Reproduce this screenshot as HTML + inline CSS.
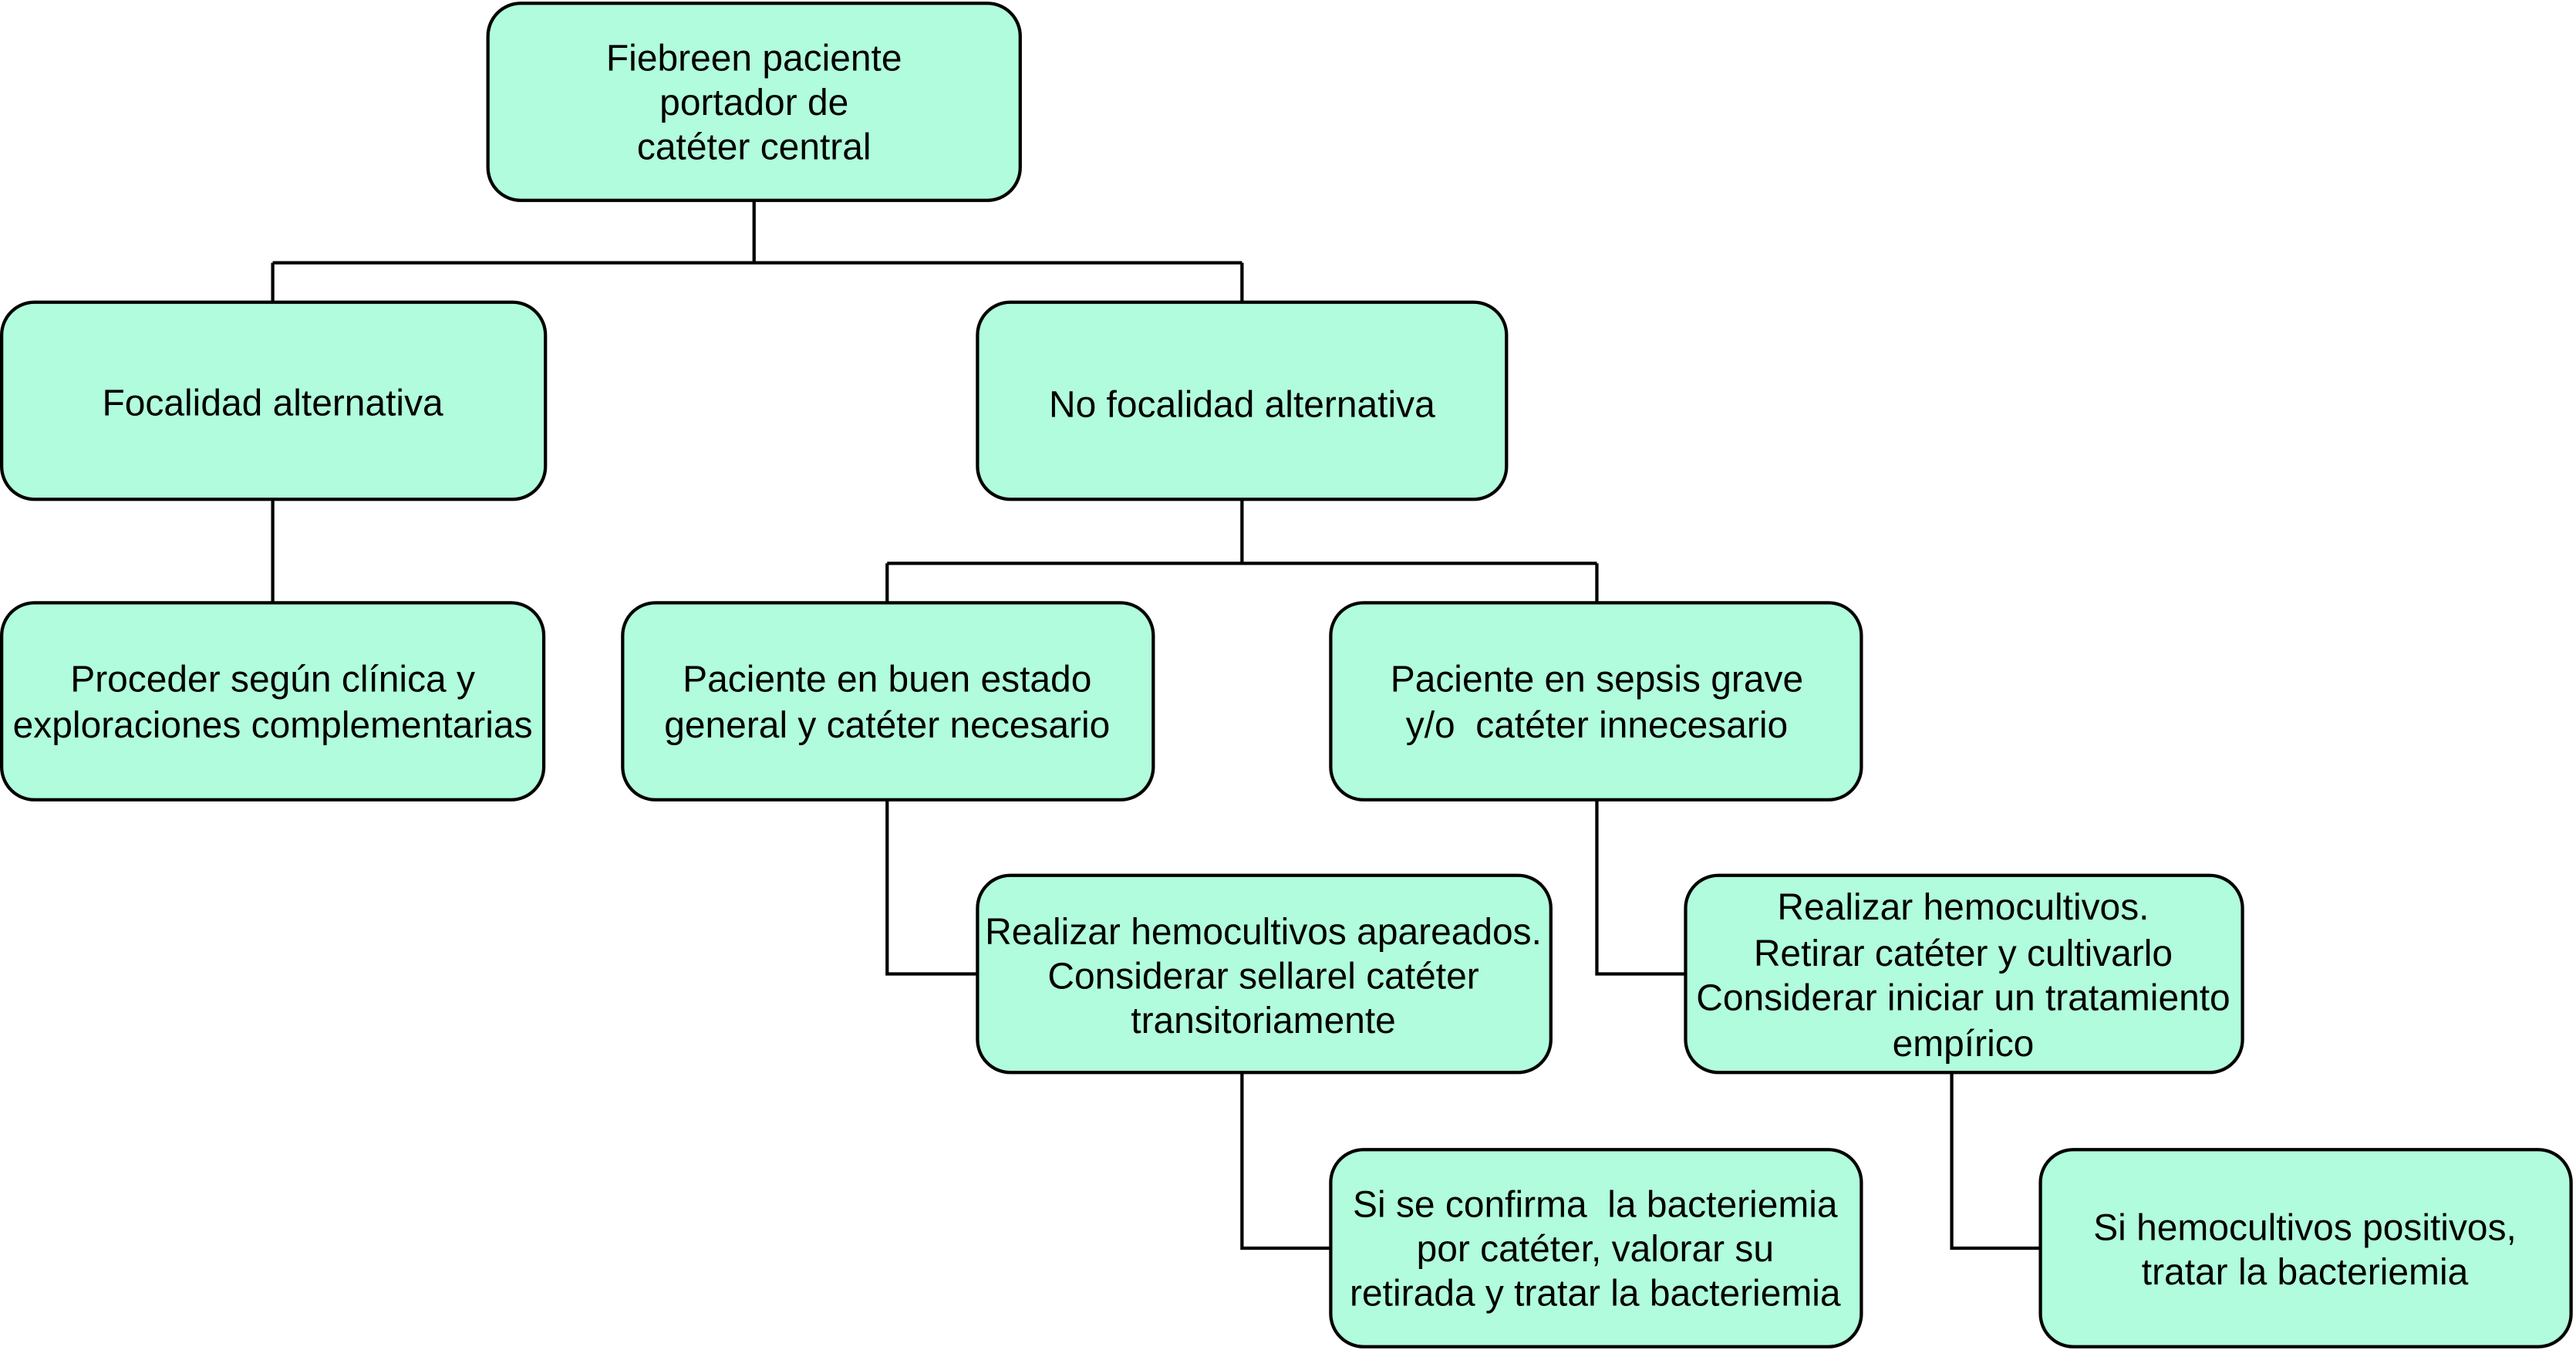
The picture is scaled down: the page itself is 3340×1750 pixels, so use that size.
<!DOCTYPE html>
<html><head><meta charset="utf-8"><style>
html,body{margin:0;padding:0;background:#fff;}
svg{display:block;}
text{font-family:"Liberation Sans",Arial,sans-serif;font-size:22.5px;fill:#000;text-anchor:middle;white-space:pre;}
</style></head><body>
<svg width="3340" height="1750" viewBox="0 0 1568 822" preserveAspectRatio="none" xmlns="http://www.w3.org/2000/svg">
<g fill="none" stroke="#000" stroke-width="2">
<path d="M459 122V160M166 160H756M166 160V184M756 160V184"/>
<path d="M166 304V367"/>
<path d="M756 304V343M540 343H972M540 343V367M972 343V367"/>
<path d="M540 487V593H595"/>
<path d="M972 487V593H1026"/>
<path d="M756 653V760H810"/>
<path d="M1188 653V760H1242"/>
</g>
<g fill="#b0fcdc" stroke="#000" stroke-width="2">
<rect x="297" y="2" width="324" height="120" rx="20"/>
<rect x="1" y="184" width="331" height="120" rx="20"/>
<rect x="595" y="184" width="322" height="120" rx="20"/>
<rect x="1" y="367" width="330" height="120" rx="20"/>
<rect x="379" y="367" width="323" height="120" rx="20"/>
<rect x="810" y="367" width="323" height="120" rx="20"/>
<rect x="595" y="533" width="349" height="120" rx="20"/>
<rect x="1026" y="533" width="339" height="120" rx="20"/>
<rect x="810" y="700" width="323" height="120" rx="20"/>
<rect x="1242" y="700" width="323" height="120" rx="20"/>
</g>
<text x="459" y="43">Fiebreen paciente</text>
<text x="459" y="70">portador de</text>
<text x="459" y="97">catéter central</text>
<text x="166" y="253">Focalidad alternativa</text>
<text x="756" y="254">No focalidad alternativa</text>
<text x="166" y="421">Proceder según clínica y</text>
<text x="166" y="449">exploraciones complementarias</text>
<text x="540" y="421">Paciente en buen estado</text>
<text x="540" y="449">general y catéter necesario</text>
<text x="972" y="421">Paciente en sepsis grave</text>
<text x="972" y="449">y/o  catéter innecesario</text>
<text x="769" y="575">Realizar hemocultivos apareados.</text>
<text x="769" y="602">Considerar sellarel catéter</text>
<text x="769" y="629">transitoriamente</text>
<text x="1195" y="560">Realizar hemocultivos.</text>
<text x="1195" y="588">Retirar catéter y cultivarlo</text>
<text x="1195" y="615">Considerar iniciar un tratamiento</text>
<text x="1195" y="643">empírico</text>
<text x="971" y="741">Si se confirma  la bacteriemia</text>
<text x="971" y="768">por catéter, valorar su</text>
<text x="971" y="795">retirada y tratar la bacteriemia</text>
<text x="1403" y="755">Si hemocultivos positivos,</text>
<text x="1403" y="782">tratar la bacteriemia</text>
</svg>
</body></html>
